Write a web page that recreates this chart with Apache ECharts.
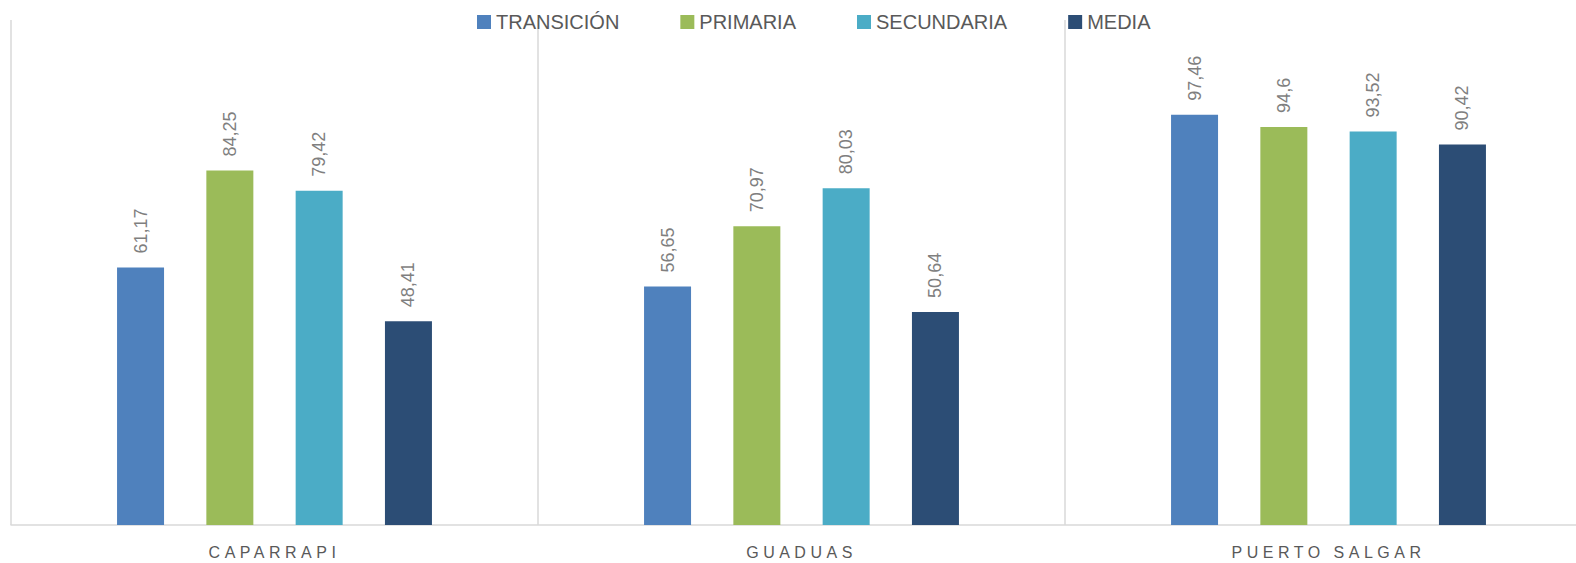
<!DOCTYPE html>
<html>
<head>
<meta charset="utf-8">
<script src="https://cdn.jsdelivr.net/npm/echarts@6/dist/echarts.min.js"></script>
<style>
  html, body { margin: 0; padding: 0; background: #fff; overflow: hidden; }
  /* el área del gráfico sobrepasa el borde derecho de la ventana */
  #main { width: 1592px; height: 563px; }
</style>
</head>
<body>
<div id="main"></div>
<script>
// datos del gráfico
var municipios = ['CAPARRAPI', 'GUADUAS', 'PUERTO SALGAR'];
var transicion = [61.17, 56.65, 97.46];
var primaria = [84.25, 70.97, 94.6];
var secundaria = [79.42, 80.03, 93.52];
var media = [48.41, 50.64, 90.42];

var myChart = echarts.init(document.getElementById('main'), null, { renderer: 'svg' });

var fuente = "'Liberation Sans', sans-serif";

function serie(nombre, datos, color) {
    return {
        name: nombre,
        type: 'bar',
        barWidth: 47,
        barGap: '90%',
        itemStyle: { color: color },
        label: {
            show: true,
            position: 'top',
            rotate: 90,
            align: 'left',
            verticalAlign: 'middle',
            distance: 14,
            color: '#7f7f7f',
            fontSize: 18,
            fontFamily: fuente,
            formatter: function(p) {
                return String(p.value).replace('.', ',');
            }
        },
        data: datos
    };
}

var option = {
    backgroundColor: '#ffffff',
    animation: false,
    legend: {
        top: 7,
        left: 472,
        itemWidth: 14,
        itemHeight: 14,
        itemGap: 61,
        icon: 'rect',
        textStyle: { color: '#595959', fontSize: 20, fontFamily: fuente },
        data: ['TRANSICIÓN', 'PRIMARIA', 'SECUNDARIA', 'MEDIA']
    },
    grid: {
        left: 11,
        right: 0,
        top: 20,
        bottom: 38
    },
    xAxis: {
        type: 'category',
        data: municipios,
        axisLine: { lineStyle: { color: '#d9d9d9', width: 1.5 } },
        axisTick: { show: false },
        splitLine: { show: true, lineStyle: { color: '#d9d9d9', width: 1.5 } },
        axisLabel: {
            color: '#595959',
            fontSize: 16,
            fontFamily: fuente,
            margin: 19
        }
    },
    yAxis: {
        type: 'value',
        min: 0,
        max: 120,
        show: false
    },
    series: [
        serie('TRANSICIÓN', transicion, '#4f81bd'),
        serie('PRIMARIA', primaria, '#9bbb59'),
        serie('SECUNDARIA', secundaria, '#4bacc6'),
        serie('MEDIA', media, '#2c4d75')
    ]
};

myChart.setOption(option);

// espaciado de letras en las etiquetas del eje
document.querySelectorAll('#main text').forEach(function(t) {
    if (municipios.indexOf(t.textContent) >= 0) {
        t.setAttribute('letter-spacing', '4.5');
        t.setAttribute('text-anchor', 'middle');
    }
});
</script>
</body>
</html>
